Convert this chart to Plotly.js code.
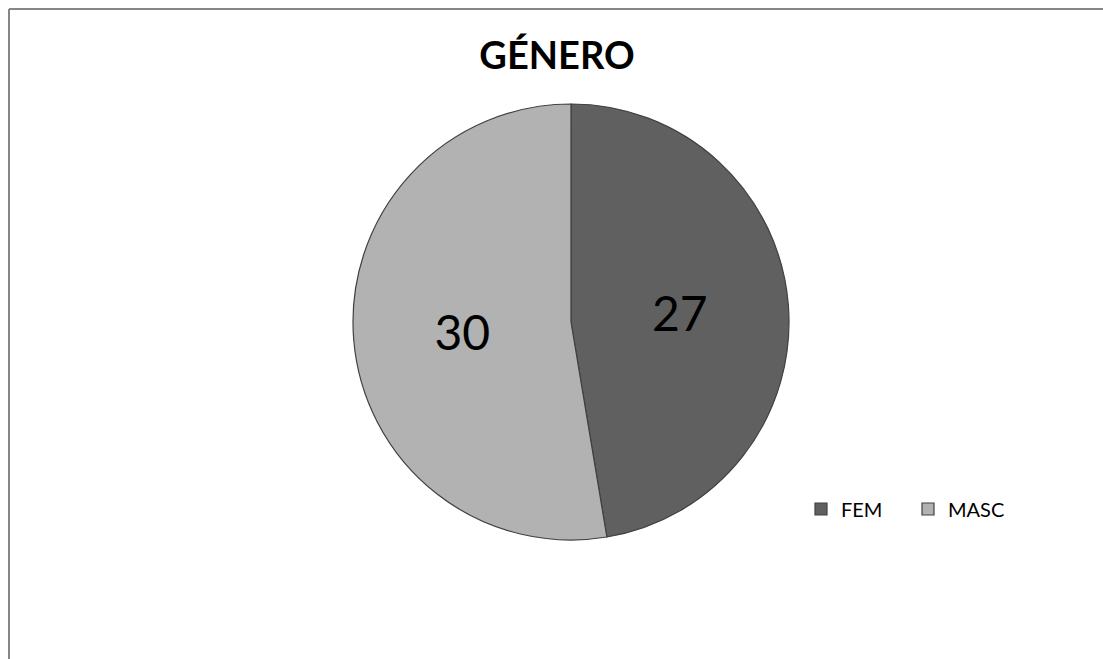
<!DOCTYPE html>
<html>
<head>
<meta charset="utf-8">
<script src="https://cdn.plot.ly/plotly-3.0.1.min.js"></script>
<style>html,body{margin:0;padding:0;background:#fff;}#chart{width:1103px;height:659px;}</style>
</head>
<body>
<div id="chart"></div>
<script>
var categories = ["FEM", "MASC"];
var values = [27, 30];
var sliceColors = ["#606060", "#b2b2b2"];
var chartTitle = "GÉNERO";

var W = 1103, H = 659;
var cx = 571, cy = 322, r = 218;

var trace = {
  type: "pie",
  labels: categories,
  values: values,
  sort: false,
  direction: "clockwise",
  rotation: 0,
  marker: { colors: sliceColors, line: { color: "#404040", width: 1.2 } },
  textinfo: "value",
  textposition: "inside",
  insidetextorientation: "horizontal",
  textfont: { family: "Lato, 'Open Sans', sans-serif", size: 48, color: "#000000" },
  hoverinfo: "label+value",
  domain: { x: [(cx - r) / W, (cx + r) / W], y: [1 - (cy + r) / H, 1 - (cy - r) / H] }
};

var layout = {
  width: W, height: H,
  margin: { l: 0, r: 0, t: 0, b: 0 },
  paper_bgcolor: "#ffffff",
  font: { family: "Lato, 'Open Sans', sans-serif", color: "#000000" },
  title: {
    text: "<b>" + chartTitle + "</b>",
    x: 557 / W, xanchor: "center",
    y: 1 - 56 / H, yanchor: "middle",
    font: { family: "Lato, 'Open Sans', sans-serif", size: 38, color: "#000000" }
  },
  showlegend: true,
  legend: {
    orientation: "h",
    x: 801 / W, xanchor: "left",
    y: 1 - 509 / H, yanchor: "middle",
    font: { family: "Lato, 'Open Sans', sans-serif", size: 20, color: "#000000" },
    bgcolor: "rgba(0,0,0,0)",
    itemwidth: 30,
    entrywidth: 62,
    entrywidthmode: "pixels"
  },
  shapes: [
    { type: "line", xref: "paper", yref: "paper", x0: 9 / W, x1: 1, y0: 1 - 9 / H, y1: 1 - 9 / H, line: { color: "#868686", width: 2 } },
    { type: "line", xref: "paper", yref: "paper", x0: 9 / W, x1: 9 / W, y0: 0, y1: 1 - 9 / H, line: { color: "#868686", width: 2 } }
  ]
};

Plotly.newPlot("chart", [trace], layout, { displayModeBar: false, staticPlot: true });
</script>
</body>
</html>
